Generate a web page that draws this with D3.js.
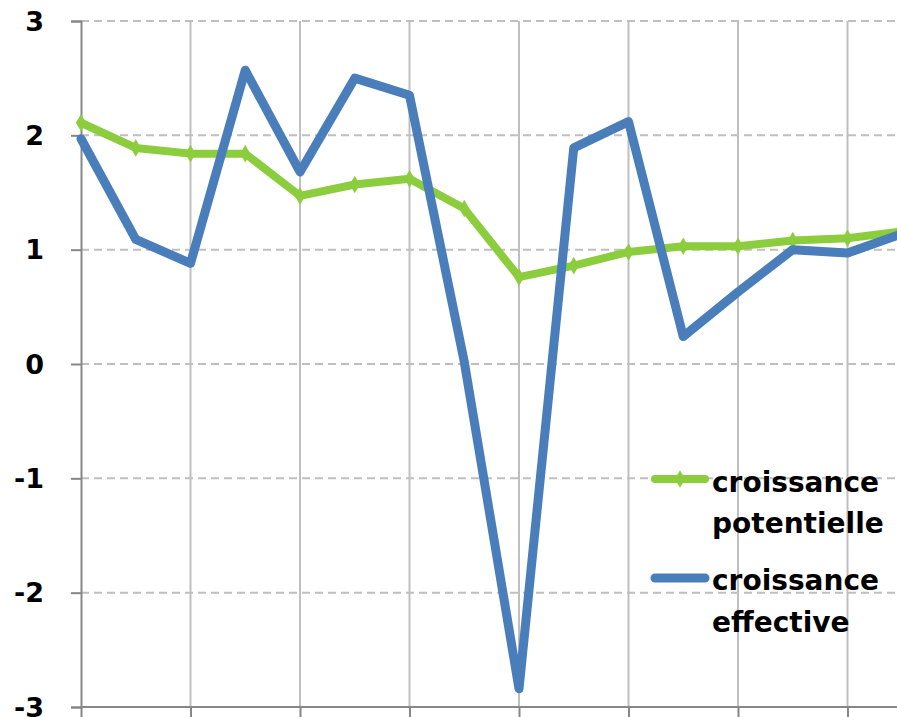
<!DOCTYPE html>
<html>
<head>
<meta charset="utf-8">
<script src="https://cdn.jsdelivr.net/npm/d3@7"></script>
<style>
  html, body { margin: 0; padding: 0; background: #fff; }
  svg { display: block; }
  text { font-family: "DejaVu Sans", "Open Sans", sans-serif; font-weight: 700; fill: #000; }
</style>
</head>
<body>
<svg id="chart" width="897" height="717"></svg>
<script>
// ---- data ----
const years = ["2001","2002","2003","2004","2005","2006","2007","2008",
               "2009","2010","2011","2012","2013","2014","2015","2016"];
const croissancePotentielle = [2.11, 1.89, 1.84, 1.84, 1.47, 1.57, 1.62, 1.36,
                               0.76, 0.86, 0.98, 1.03, 1.03, 1.08, 1.10, 1.16];
const croissanceEffective   = [1.97, 1.09, 0.88, 2.57, 1.68, 2.50, 2.35, 0.02,
                               -2.84, 1.89, 2.12, 0.24, 0.63, 1.00, 0.97, 1.14];
const yTicks = [-3, -2, -1, 0, 1, 2, 3];
const legendLabels = [["croissance", "potentielle"], ["croissance", "effective"]];

// ---- layout ----
const svg = d3.select("#chart");
const x0 = 81, step = 54.75;
const x = d3.scalePoint().domain(years).range([x0, x0 + step * (years.length - 1)]);
const y = d3.scaleLinear().domain([-3, 3]).range([707, 21]);
const green = "#8CCD3E", blue = "#4A7EBB";
const gridCol = "#BFBFBF", axisCol = "#878787";

// horizontal dashed gridlines
svg.append("g").selectAll("line").data(yTicks.filter(d => d !== -3)).join("line")
  .attr("x1", x0).attr("x2", 897)
  .attr("y1", d => y(d)).attr("y2", d => y(d))
  .attr("stroke", gridCol).attr("stroke-width", 2)
  .attr("stroke-dasharray", "8,5");

// vertical gridlines every 2 categories
const vCats = years.filter((d, i) => i % 2 === 0 && i > 0);
const lastX = x0 + step * 16;
const vxs = vCats.map(d => x(d)).concat([lastX]);
svg.append("g").selectAll("line").data(vxs).join("line")
  .attr("x1", d => d).attr("x2", d => d)
  .attr("y1", y(3)).attr("y2", y(-3))
  .attr("stroke", gridCol).attr("stroke-width", 2);

// y axis
const yAxis = d3.axisLeft(y).tickValues(yTicks).tickSize(10).tickFormat("");
const gy = svg.append("g").attr("transform", `translate(${x0},0)`).call(yAxis);
gy.select(".domain").attr("stroke", axisCol).attr("stroke-width", 2);
gy.selectAll(".tick line").attr("stroke", axisCol).attr("stroke-width", 2);

// y labels
svg.append("g").selectAll("text").data(yTicks).join("text")
  .attr("x", 44).attr("y", d => y(d))
  .attr("dy", "0.36em")
  .attr("text-anchor", "end")
  .style("font-size", "27px")
  .text(d => d);

// x axis at bottom
const xAxis = d3.axisBottom(x).tickValues(years.filter((d, i) => i % 2 === 0)).tickSize(10).tickFormat("");
const gx = svg.append("g").attr("transform", `translate(0,${y(-3)})`).call(xAxis);
gx.select(".domain").remove();
gx.append("line").attr("x1", x0).attr("x2", 897).attr("y1", 0).attr("y2", 0)
  .attr("stroke", axisCol).attr("stroke-width", 2);
gx.selectAll(".tick line").attr("stroke", axisCol).attr("stroke-width", 2);

// lines
const line = d3.line().x((d, i) => x(years[i])).y(d => y(d));
svg.append("path").datum(croissancePotentielle)
  .attr("d", line).attr("fill", "none").attr("stroke", green)
  .attr("stroke-width", 8).attr("stroke-linejoin", "round").attr("stroke-linecap", "round");
svg.append("g").selectAll("path").data(croissancePotentielle).join("path")
  .attr("d", d3.symbol(d3.symbolDiamond, 90))
  .attr("transform", (d, i) => `translate(${x(years[i])},${y(d)})`)
  .attr("fill", green);
svg.append("path").datum(croissanceEffective)
  .attr("d", line).attr("fill", "none").attr("stroke", blue)
  .attr("stroke-width", 9).attr("stroke-linejoin", "round").attr("stroke-linecap", "round");

// legend
const lg = svg.append("g");
const legItems = [
  { color: green, marker: true, ly: 479, t1: 492, t2: 533, w: 8 },
  { color: blue, marker: false, ly: 578, t1: 590, t2: 632, w: 9 }
];
legItems.forEach((it, k) => {
  lg.append("line").attr("x1", 655).attr("x2", 705).attr("y1", it.ly).attr("y2", it.ly)
    .attr("stroke", it.color).attr("stroke-width", it.w).attr("stroke-linecap", "round");
  if (it.marker) {
    lg.append("path").attr("d", d3.symbol(d3.symbolDiamond, 90))
      .attr("transform", `translate(680,${it.ly})`).attr("fill", it.color);
  }
  lg.append("text").attr("x", 712).attr("y", it.t1).style("font-size", "28px").text(legendLabels[k][0]);
  lg.append("text").attr("x", 712).attr("y", it.t2).style("font-size", "28px").text(legendLabels[k][1]);
});
</script>
</body>
</html>
